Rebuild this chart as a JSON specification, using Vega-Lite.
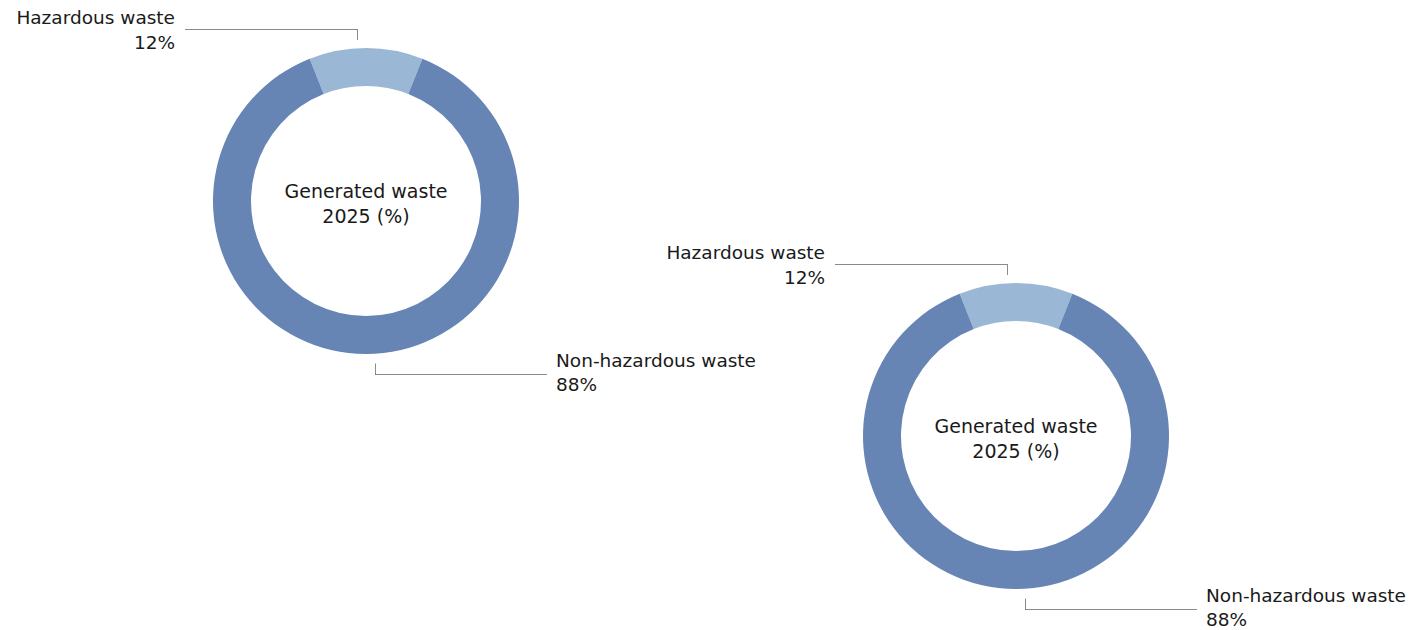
{
  "$schema": "https://vega.github.io/schema/vega-lite/v6.json",
  "width": 1410,
  "height": 630,
  "padding": 0,
  "autosize": {"type": "fit", "contains": "padding"},
  "background": "white",
  "config": {"view": {"stroke": null}, "text": {"font": "DejaVu Sans", "fontSize": 18.5, "color": "#1a1a1a"}},
  "data": {"values": [
    {"panel": 1, "category": "Hazardous waste", "share": 0.12},
    {"panel": 1, "category": "Non-hazardous waste", "share": 0.88},
    {"panel": 2, "category": "Hazardous waste", "share": 0.12},
    {"panel": 2, "category": "Non-hazardous waste", "share": 0.88}
  ]},
  "transform": [
    {"stack": "share", "groupby": ["panel"], "sort": [{"field": "category", "order": "ascending"}], "as": ["s0", "s1"]}
  ],
  "encoding": {
    "x": {"field": "panel", "type": "ordinal", "axis": null, "scale": {"type": "point", "domain": [1, 2], "range": [366, 1016], "padding": 0}},
    "y": {"field": "panel", "type": "ordinal", "axis": null, "scale": {"type": "point", "domain": [1, 2], "range": [201, 436], "padding": 0}}
  },
  "layer": [
    {
      "mark": {"type": "arc", "radius": 153, "radius2": 115},
      "encoding": {
        "theta": {"field": "s0", "type": "quantitative", "scale": {"domain": [0, 1], "range": [-0.37699, 5.90619]}},
        "theta2": {"field": "s1"},
        "color": {"field": "category", "type": "nominal", "legend": null, "scale": {"domain": ["Hazardous waste", "Non-hazardous waste"], "range": ["#9BB7D6", "#6685B5"]}}
      }
    },
    {
      "mark": {"type": "tick", "orient": "horizontal", "size": 172, "thickness": 1, "color": "#595959"},
      "encoding": {
        "xOffset": {"field": "category", "type": "nominal", "scale": {"type": "point", "domain": ["Hazardous waste", "Non-hazardous waste"], "range": [-95, 95], "padding": 0}},
        "yOffset": {"field": "category", "type": "nominal", "scale": {"type": "point", "domain": ["Hazardous waste", "Non-hazardous waste"], "range": [-171.5, 173.5], "padding": 0}}
      }
    },
    {
      "mark": {"type": "tick", "orient": "vertical", "size": 11, "thickness": 1, "color": "#595959"},
      "encoding": {
        "xOffset": {"field": "category", "type": "nominal", "scale": {"type": "point", "domain": ["Hazardous waste", "Non-hazardous waste"], "range": [-8.5, 9.5], "padding": 0}},
        "yOffset": {"field": "category", "type": "nominal", "scale": {"type": "point", "domain": ["Hazardous waste", "Non-hazardous waste"], "range": [-166.5, 168], "padding": 0}}
      }
    },
    {
      "transform": [{"filter": "datum.category === 'Hazardous waste'"}],
      "mark": {"type": "text", "align": "right", "baseline": "middle", "dx": -191, "dy": -183},
      "encoding": {"text": {"field": "category"}}
    },
    {
      "transform": [{"filter": "datum.category === 'Hazardous waste'"}],
      "mark": {"type": "text", "align": "right", "baseline": "middle", "dx": -191, "dy": -158},
      "encoding": {"text": {"field": "share", "format": ".0%"}}
    },
    {
      "transform": [{"filter": "datum.category === 'Non-hazardous waste'"}],
      "mark": {"type": "text", "align": "left", "baseline": "middle", "dx": 190, "dy": 160},
      "encoding": {"text": {"field": "category"}}
    },
    {
      "transform": [{"filter": "datum.category === 'Non-hazardous waste'"}],
      "mark": {"type": "text", "align": "left", "baseline": "middle", "dx": 190, "dy": 184},
      "encoding": {"text": {"field": "share", "format": ".0%"}}
    },
    {
      "transform": [{"filter": "datum.category === 'Hazardous waste'"}],
      "mark": {"type": "text", "align": "center", "baseline": "middle", "lineHeight": 25, "dy": -9.5, "fontSize": 19},
      "encoding": {"text": {"value": ["Generated waste", "2025 (%)"]}}
    }
  ],
  "resolve": {"scale": {"xOffset": "independent", "yOffset": "independent"}}
}
